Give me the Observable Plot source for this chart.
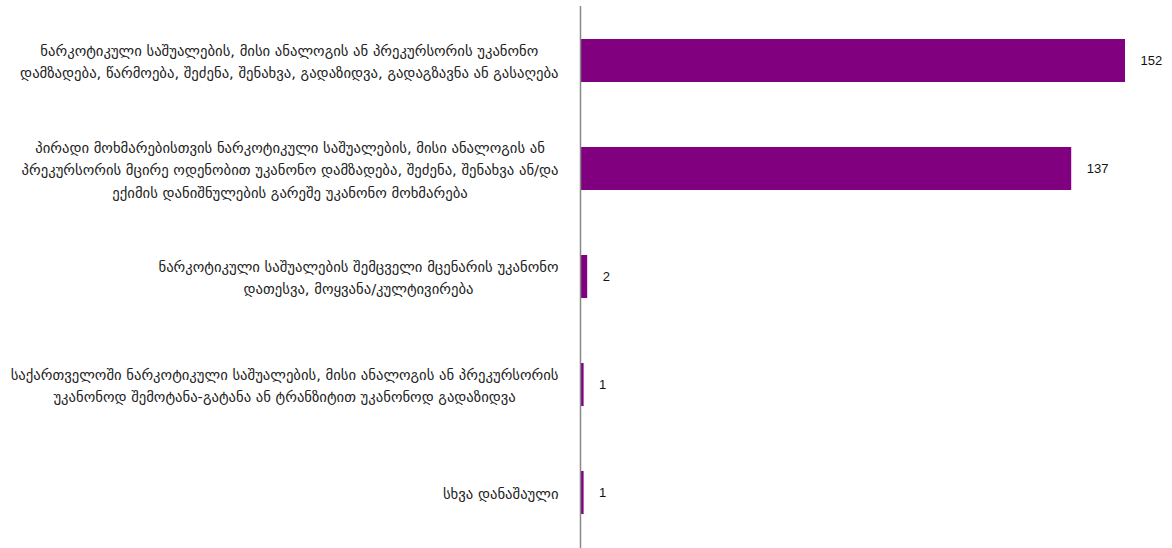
<!DOCTYPE html>
<html><head><meta charset="utf-8">
<script src="https://cdn.jsdelivr.net/npm/d3@7"></script>
<script src="https://cdn.jsdelivr.net/npm/@observablehq/plot@0.6"></script>
<style>body{margin:0;background:#fff}</style>
</head><body><div id="chart"></div>
<script>
const categories = [
  "ნარკოტიკული საშუალების, მისი ანალოგის ან პრეკურსორის უკანონო\nდამზადება, წარმოება, შეძენა, შენახვა, გადაზიდვა, გადაგზავნა ან გასაღება",
  "პირადი მოხმარებისთვის ნარკოტიკული საშუალების, მისი ანალოგის ან\nპრეკურსორის მცირე ოდენობით უკანონო დამზადება, შეძენა, შენახვა ან/და\nექიმის დანიშნულების გარეშე უკანონო მოხმარება",
  "ნარკოტიკული საშუალების შემცველი მცენარის უკანონო\nდათესვა, მოყვანა/კულტივირება",
  "საქართველოში ნარკოტიკული საშუალების, მისი ანალოგის ან პრეკურსორის\nუკანონოდ შემოტანა-გატანა ან ტრანზიტით უკანონოდ გადაზიდვა",
  "სხვა დანაშაული"
];
const values = [152, 137, 2, 1, 1];
const data = categories.map((c, i) => ({category: c, value: values[i]}));

const FS = 14.7;
const FONT = '"DejaVu Sans", sans-serif';
const ctx = document.createElement("canvas").getContext("2d");
ctx.font = `${FS}px "DejaVu Sans"`;
const blockWidth = s => Math.max(...s.split("\n").map(l => ctx.measureText(l).width));
const GAP = 22;

const labelMarks = categories.map(c => Plot.text([c], {
  x: () => 0, y: d => d, text: d => d,
  textAnchor: "middle", dx: -(GAP + blockWidth(c) / 2), dy: -1,
  lineHeight: 22.5 / FS, fontSize: FS, fill: "#222"
}));

const chart = Plot.plot({
  width: 1172, height: 548,
  marginLeft: 580, marginRight: 47, marginTop: 6, marginBottom: 0,
  style: {fontFamily: FONT, background: "#fff"},
  x: {domain: [0, 152], axis: null},
  y: {domain: categories, axis: null, paddingInner: 0.6, paddingOuter: 0.3},
  marks: [
    Plot.barX(data, {x: "value", y: "category", fill: "#800080"}),
    Plot.ruleX([0], {stroke: "#888", strokeWidth: 1.5}),
    Plot.text(data, {x: "value", y: "category", text: d => String(d.value), textAnchor: "start", dx: 15, fontSize: 13, fill: "#111", fontFamily: '"Liberation Sans", sans-serif'}),
    ...labelMarks
  ]
});
document.getElementById("chart").append(chart);
</script></body></html>
